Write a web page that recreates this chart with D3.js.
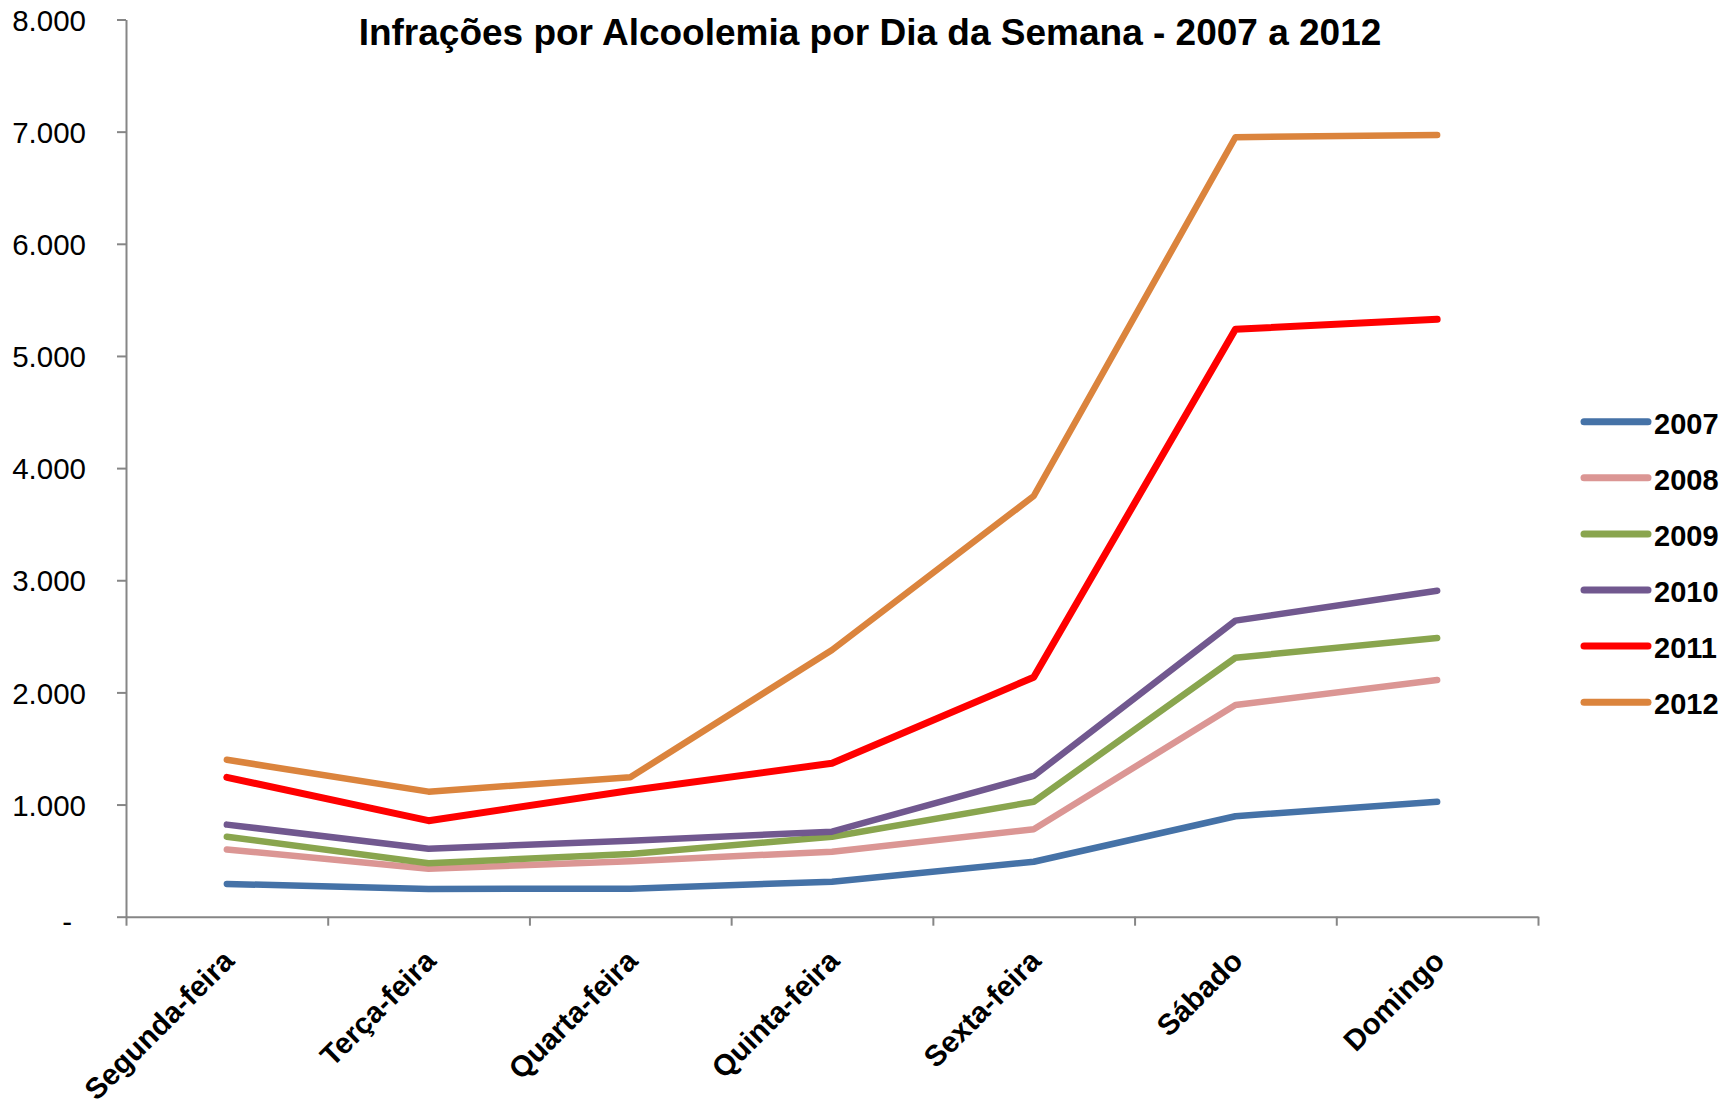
<!DOCTYPE html>
<html>
<head>
<meta charset="utf-8">
<script src="https://cdn.jsdelivr.net/npm/d3@7"></script>
<style>
  html, body { margin: 0; padding: 0; background: #fff; }
  svg { display: block; font-family: "Liberation Sans", Arial, sans-serif; }
</style>
</head>
<body>
<svg id="chart" width="1721" height="1109"></svg>
<script>
// Infractions for blood-alcohol, per weekday, 2007–2012
const days = ["Segunda-feira", "Terça-feira", "Quarta-feira", "Quinta-feira", "Sexta-feira", "Sábado", "Domingo"];
const years = ["2007", "2008", "2009", "2010", "2011", "2012"];

const v2007 = [292, 248, 250, 312, 490, 896, 1025];
const v2008 = [600, 428, 495, 580, 779, 1888, 2110];
const v2009 = [713, 476, 560, 713, 1025, 2309, 2486];
const v2010 = [821, 606, 678, 758, 1255, 2640, 2907];
const v2011 = [1243, 856, 1125, 1368, 2135, 5238, 5327];
const v2012 = [1399, 1115, 1243, 2378, 3751, 6950, 6970];

const yTicks = [0, 1000, 2000, 3000, 4000, 5000, 6000, 7000, 8000];
const colors = ["#4572A7", "#DB9694", "#89A54E", "#71588F", "#FF0000", "#DB843D"];

const seriesValues = [v2007, v2008, v2009, v2010, v2011, v2012];
const series = years.map((yr, i) => ({ year: yr, color: colors[i], values: seriesValues[i] }));

const svg = d3.select("#chart");
const plotLeft = 126, plotRight = 1538, plotTop = 19.5, plotBottom = 916.7;

const x = d3.scaleBand().domain(days).range([plotLeft, plotRight]).padding(0);
const xEdge = d3.scaleLinear().domain([0, days.length]).range([plotLeft, plotRight]);
const y = d3.scaleLinear().domain([0, 8000]).range([plotBottom, plotTop]);

const ptBR = d3.formatLocale({ decimal: ",", thousands: ".", grouping: [3], currency: ["R$", ""] });
const fmt = ptBR.format(",.0f");

const axisColor = "#868686";

// Y axis
const yAxis = svg.append("g")
  .attr("transform", `translate(${plotLeft},0)`)
  .call(d3.axisLeft(y).tickValues(yTicks).tickSize(9).tickSizeOuter(0).tickPadding(31)
    .tickFormat(d => d === 0 ? "-" : fmt(d)));
yAxis.select(".domain").attr("stroke", axisColor).attr("stroke-width", 2);
yAxis.selectAll(".tick line").attr("stroke", axisColor).attr("stroke-width", 2);
yAxis.selectAll(".tick text")
  .attr("fill", "#000")
  .style("font-size", "29.5px")
  .style("font-family", "'Liberation Sans', Arial, sans-serif")
  .attr("dy", "0.36em");
yAxis.selectAll(".tick").filter(d => d === 0).select("text").attr("x", -54).attr("dy", "0.5em");

// X axis (ticks between categories)
const xAxis = svg.append("g")
  .attr("transform", `translate(0,${plotBottom})`)
  .call(d3.axisBottom(xEdge).tickValues(d3.range(0, days.length + 1)).tickSize(9).tickSizeOuter(0).tickFormat(""));
xAxis.select(".domain").attr("stroke", axisColor).attr("stroke-width", 2);
xAxis.selectAll(".tick line").attr("stroke", axisColor).attr("stroke-width", 2);

// Category labels, rotated
svg.append("g").selectAll("text")
  .data(days).join("text")
  .attr("transform", d => `translate(${x(d) + x.bandwidth() / 2 + 9},${plotBottom + 46}) rotate(-45)`)
  .attr("text-anchor", "end")
  .style("font-size", "29.5px")
  .style("font-weight", "bold")
  .attr("fill", "#000")
  .text(d => d);

// Lines
const line = d3.line()
  .x((d, i) => x(days[i]) + x.bandwidth() / 2)
  .y(d => y(d));

svg.append("g").selectAll("path")
  .data(series).join("path")
  .attr("d", d => line(d.values))
  .attr("fill", "none")
  .attr("stroke", d => d.color)
  .attr("stroke-width", d => d.year === "2011" ? 7 : 6.5)
  .attr("stroke-linecap", "round")
  .attr("stroke-linejoin", "round");

// Title
svg.append("text")
  .attr("x", 870).attr("y", 45)
  .attr("text-anchor", "middle")
  .style("font-size", "37px")
  .style("font-weight", "bold")
  .attr("fill", "#000")
  .text("Infrações por Alcoolemia por Dia da Semana - 2007 a 2012");

// Legend
const legend = svg.append("g").selectAll("g")
  .data(series).join("g")
  .attr("transform", (d, i) => `translate(1584,${421.7 + i * 56.1})`);
legend.append("line")
  .attr("x1", 0).attr("x2", 64).attr("y1", 0).attr("y2", 0)
  .attr("stroke", d => d.color)
  .attr("stroke-width", 7)
  .attr("stroke-linecap", "round");
legend.append("text")
  .attr("x", 70).attr("y", 12)
  .style("font-size", "29px")
  .style("font-weight", "bold")
  .attr("fill", "#000")
  .text(d => d.year);
</script>
</body>
</html>
